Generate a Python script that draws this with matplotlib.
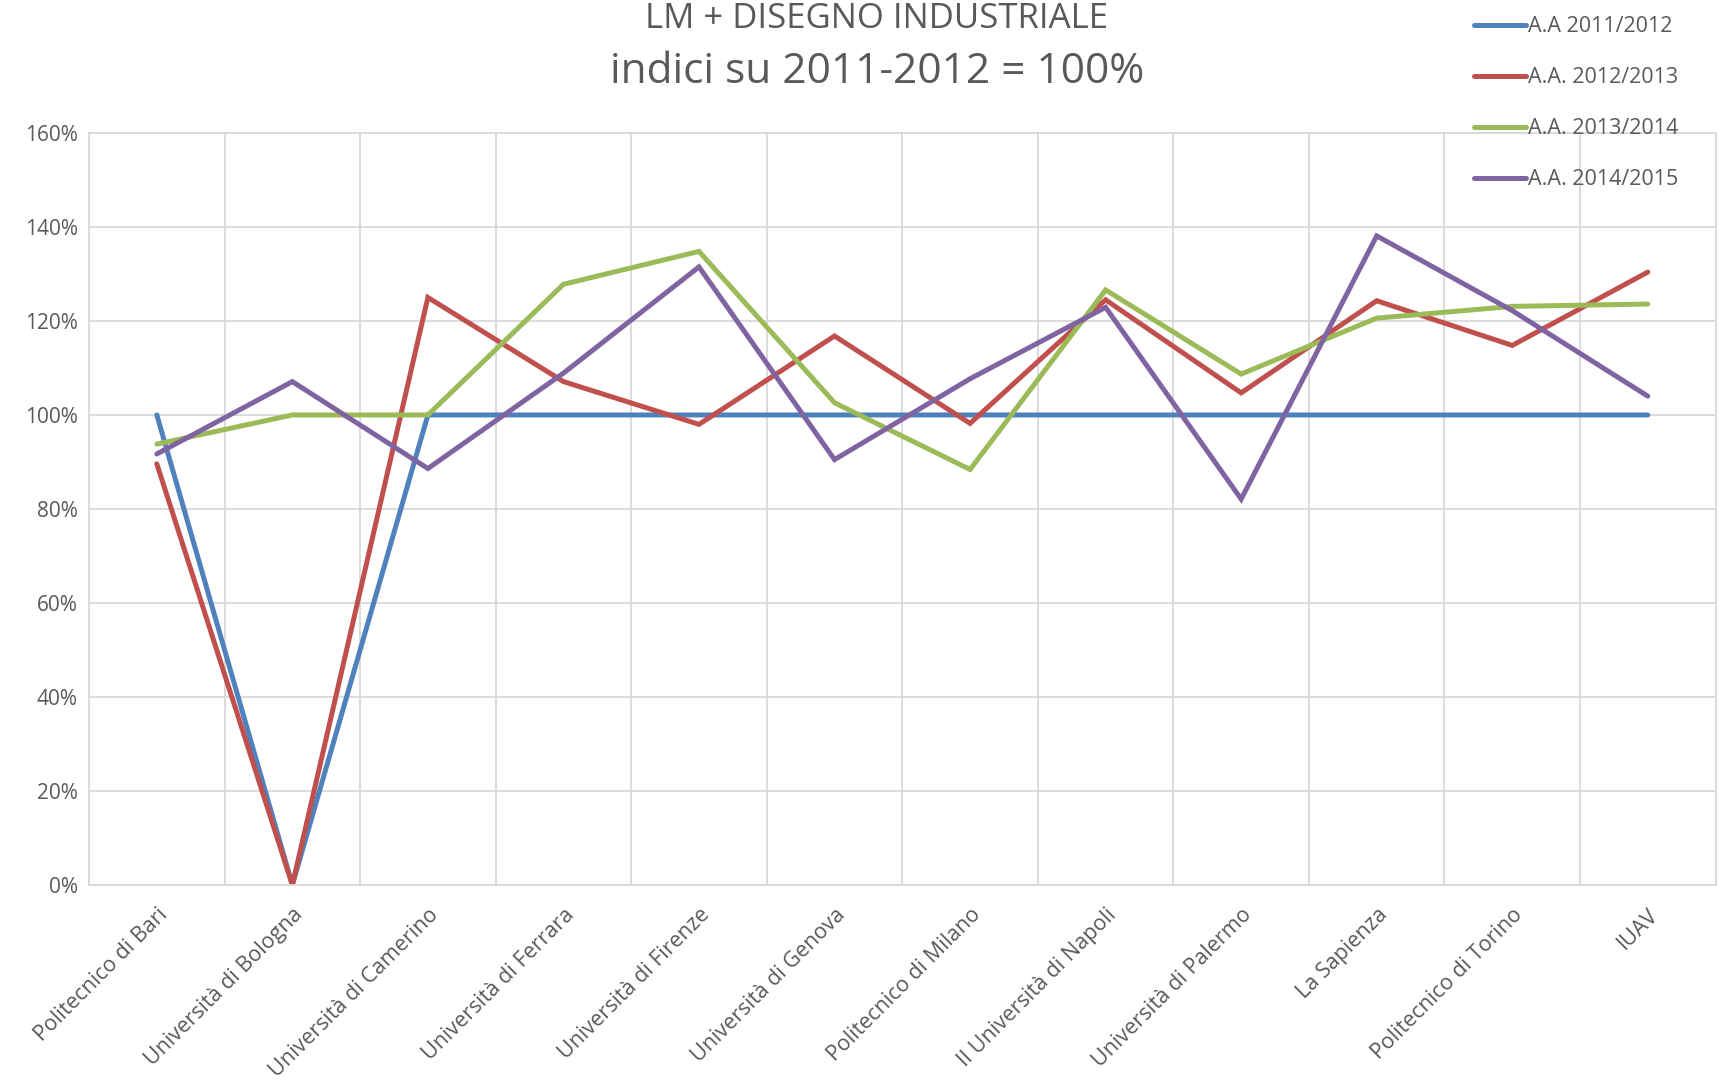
import matplotlib
matplotlib.use("Agg")
import matplotlib.pyplot as plt
from matplotlib.ticker import FixedLocator, PercentFormatter
from matplotlib import rcParams

rcParams.update({'font.family': ['Open Sans', 'DejaVu Sans']})

universities = [
    "Politecnico di Bari", "Università di Bologna", "Università di Camerino",
    "Università di Ferrara", "Università di Firenze", "Università di Genova",
    "Politecnico di Milano", "II Università di Napoli", "Università di Palermo",
    "La Sapienza", "Politecnico di Torino", "IUAV",
]

aa_2011_2012 = [100, 0, 100, 100, 100, 100, 100, 100, 100, 100, 100, 100]
aa_2012_2013 = [89.6, 0, 125.0, 107.1, 98.0, 116.8, 98.2, 124.5, 104.7, 124.3, 114.8, 130.4]
aa_2013_2014 = [93.8, 100, 100, 127.8, 134.8, 102.6, 88.4, 126.6, 108.7, 120.6, 123.1, 123.6]
aa_2014_2015 = [91.7, 107.1, 88.6, 108.9, 131.5, 90.5, 107.7, 122.9, 82.1, 138.1, 122.2, 104.0]

series_labels = ["A.A 2011/2012", "A.A. 2012/2013", "A.A. 2013/2014", "A.A. 2014/2015"]
series_colors = ["#4F81BD", "#C0504D", "#9BBB59", "#8064A2"]

text_color = "#595959"
grid_color = "#D9D9D9"

fig = plt.figure(figsize=(17.19, 10.88), dpi=100)
ax = fig.add_axes([0.0518, 0.1866, 0.9462, 0.6912])

x = list(range(len(universities)))
for values, label, color in zip([aa_2011_2012, aa_2012_2013, aa_2013_2014, aa_2014_2015],
                                series_labels, series_colors):
    ax.plot(x, values, color=color, lw=3.6, label=label,
            solid_capstyle='round', solid_joinstyle='miter')

ax.set_xlim(-0.5, len(universities) - 0.5)
ax.set_ylim(0, 160)
ax.yaxis.set_major_locator(FixedLocator(range(0, 161, 20)))
ax.yaxis.set_major_formatter(PercentFormatter(decimals=0))
ax.set_xticks(x)
ax.set_xticklabels(universities, rotation=45, ha='right', rotation_mode='anchor')
ax.xaxis.set_minor_locator(FixedLocator([i + 0.5 for i in range(-1, len(universities))]))

ax.grid(axis='y', which='major', color=grid_color, lw=1.3)
ax.grid(axis='x', which='minor', color=grid_color, lw=1.3)
ax.set_axisbelow(True)
for s in ax.spines.values():
    s.set_color(grid_color)
    s.set_linewidth(1.3)

ax.tick_params(axis='both', which='both', length=0, colors=text_color)
ax.tick_params(axis='x', pad=14, labelsize=15.5)
ax.tick_params(axis='y', pad=8, labelsize=15)

# first title line sits at the very top edge of the picture
fig.text(0.51, 1.0 - 2 / 1088, "LM + DISEGNO INDUSTRIALE", ha='center', va='top',
         fontsize=25, color=text_color)
fig.text(0.51, 1.0 - 72 / 1088, "indici su 2011-2012 = 100%", ha='center', va='center',
         fontsize=30.5, color=text_color)

fig.legend(loc='upper left', bbox_to_anchor=(1459 / 1719, 1.0 - 1 / 1088), frameon=False,
           fontsize=15.5, labelcolor=text_color, handlelength=2.4, handletextpad=0.1,
           labelspacing=1.4, borderpad=0.2)

fig.savefig("out.png", dpi=100)
